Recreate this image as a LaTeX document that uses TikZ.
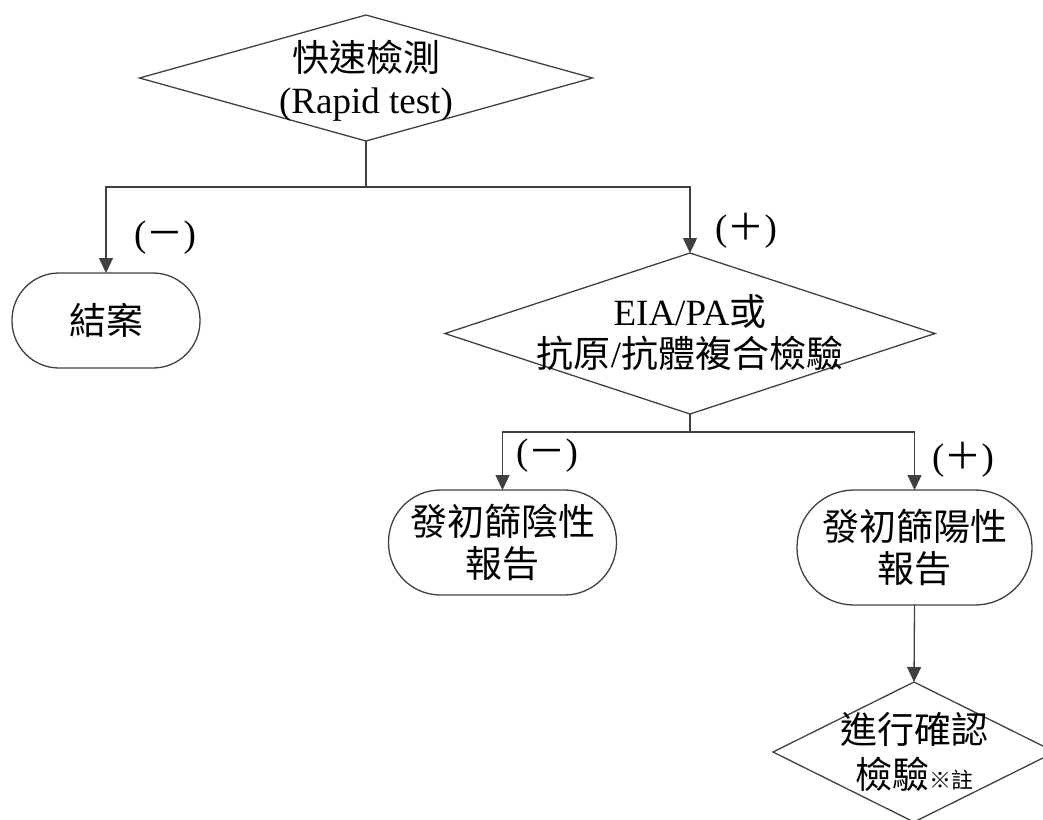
\documentclass[tikz,border=0pt]{standalone}
\usepackage{fontspec}
\setmainfont{Liberation Serif}
\newfontfamily\cjk{Noto Sans CJK TC}
\usetikzlibrary{arrows.meta,shapes.geometric}
\definecolor{linec}{HTML}{404040}
\newcommand\bigfont{\fontsize{37}{42}\selectfont}
\newcommand\smallnote{\fontsize{22}{22}\selectfont}
\tikzset{
  conn/.style={draw=linec, line width=1.3pt},
  arr/.style={conn, -{Triangle[length=15pt,width=14pt]}},
  dia/.style={diamond, draw=linec, line width=1.3pt, inner sep=0pt, outer sep=0pt},
  term/.style={rectangle, draw=linec, line width=1.3pt, align=center, inner sep=0pt, outer sep=0pt, font=\bigfont},
  txt/.style={align=center, font=\bigfont, inner sep=0pt},
  lbl/.style={font=\bigfont, inner sep=0pt}
}
\begin{document}
\begin{tikzpicture}[x=1pt,y=-1pt]
\useasboundingbox (0,0) rectangle (1043,819);
% diamonds
\node[dia, minimum width=453pt, minimum height=126pt] (d1) at (366,78) {};
\node[txt] (d1t) at (366,81) {{\cjk 快速檢測}\\(Rapid test)};
\node[dia, minimum width=490pt, minimum height=161pt] (d2) at (690,333.5) {};
\node[txt] (d2t) at (690,333) {EIA/PA{\cjk 或}\\{\cjk 抗原}/{\cjk 抗體複合檢驗}};
\node[dia, minimum width=282pt, minimum height=140pt] (d3) at (914,752) {};
\node[txt, font=\fontsize{37}{45}\selectfont] (d3t) at (914,752) {{\cjk 進行確認}\\{\cjk 檢驗}{\smallnote\cjk ※註}};
% terminals
\node[term, minimum width=188pt, minimum height=95pt, rounded corners=47pt] (end) at (106,320.5) {\cjk 結案};
\node[term, minimum width=228pt, minimum height=105pt, rounded corners=52pt] (neg) at (502.5,542.5) {\cjk 發初篩陰性\\\cjk 報告};
\node[term, minimum width=235pt, minimum height=115pt, rounded corners=57pt] (pos) at (914.5,547.5) {\cjk 發初篩陽性\\\cjk 報告};
% junctions
\coordinate (j1) at (366,187);
\coordinate (j2) at (690,432);
\draw[conn] (d1.south) -- (j1);
\draw[arr] (j1) -| (end.north);
\draw[arr] (j1) -| (d2.north);
\draw[conn] (d2.south) -- (j2);
\draw[arr] (j2) -| (neg.north);
\draw[arr] (j2) -| (pos.north);
\draw[arr] (pos.south) -- (d3.north);
% labels
\node[lbl] (l1) at (165,238) {({\cjk －})};
\node[lbl] (l2) at (746,231) {({\cjk ＋})};
\node[lbl] (l3) at (547,456) {({\cjk －})};
\node[lbl] (l4) at (963,460) {({\cjk ＋})};
\end{tikzpicture}
\end{document}
